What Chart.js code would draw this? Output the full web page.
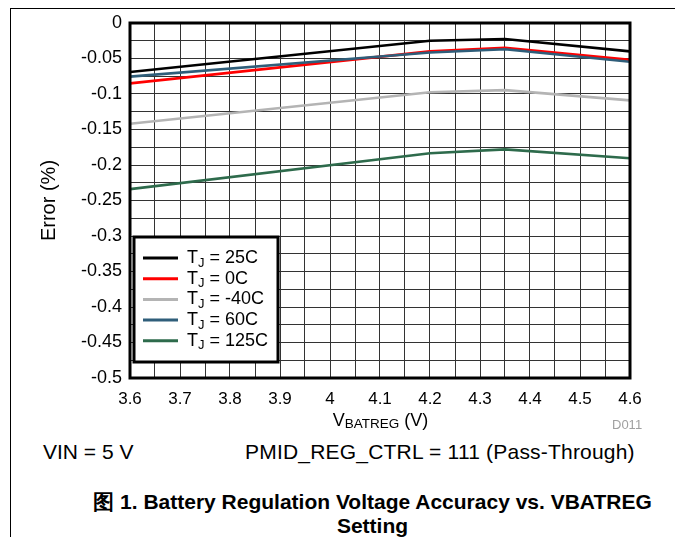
<!DOCTYPE html>
<html>
<head>
<meta charset="utf-8">
<script src="https://cdn.jsdelivr.net/npm/chart.js@4"></script>
<style>
body { margin: 0; background: #fff; font-family: "Liberation Sans", Arial, sans-serif; }
#wrap { position: relative; width: 675px; height: 537px; overflow: hidden; }
#frame { position: absolute; left: 10px; top: 8px; width: 700px; height: 600px; border-left: 1px solid #000; border-top: 1px solid #000; }
#grafico { position: absolute; left: 0; top: 0; }
.txt { position: absolute; white-space: nowrap; color: #000; }
#xtitulo { left: 0; width: 761px; top: 410px; line-height: 20px; text-align: center; font-size: 18px; }
#xtitulo sub { font-size: 13.5px; vertical-align: -2px; line-height: 0; }
#codigo { left: 612px; top: 417px; font-size: 13px; color: #a0a0a0; }
#vin { left: 43px; top: 440px; font-size: 21px; }
#pmid { left: 245px; top: 440px; font-size: 21px; letter-spacing: 0.2px; }
.legenda { left: 0; width: 745px; text-align: center; font-size: 21px; font-weight: bold; }
</style>
</head>
<body>
<div id="wrap">
<div id="frame"></div>
<canvas id="grafico" width="675" height="440"></canvas>
<div class="txt" id="xtitulo">V<sub>BATREG</sub> (V)</div>
<div class="txt" id="codigo">D011</div>
<div class="txt" id="vin">VIN = 5 V</div>
<div class="txt" id="pmid">PMID_REG_CTRL = 111 (Pass-Through)</div>
<div class="txt legenda" style="top:488px">图 1. Battery Regulation Voltage Accuracy vs. VBATREG</div>
<div class="txt legenda" style="top:514px">Setting</div>
</div>
<script>
// ======================================
// Dados
// ======================================

const tensoes = [3.6, 4.2, 4.35, 4.6];

const erro25 = [-0.069, -0.025, -0.0225, -0.040];
const erro0 = [-0.085, -0.040, -0.0350, -0.052];
const erroMenos40 = [-0.142, -0.0975, -0.0945, -0.109];
const erro60 = [-0.0755, -0.0415, -0.0370, -0.0545];
const erro125 = [-0.234, -0.1835, -0.178, -0.1905];

const temperaturas = ["25C", "0C", "-40C", "60C", "125C"];
const cores = ["#000000", "#ff0000", "#b4b4b4", "#2f5e7a", "#2e6b4c"];
const series = [erro25, erro0, erroMenos40, erro60, erro125];
const ordem = [1, 3, 4, 2, 5];

// ======================================
// Moldura e legenda
// ======================================

const moldura = {
  id: "moldura",
  afterDatasetsDraw(chart) {
    const a = chart.chartArea;
    const ctx = chart.ctx;
    ctx.save();
    ctx.strokeStyle = "#000";
    ctx.lineWidth = 3;
    ctx.strokeRect(a.left, a.top, a.right - a.left, a.bottom - a.top);

    // legenda
    const lx = a.left + 4, ly = a.bottom - 141, lw = 144, lh = 125;
    ctx.fillStyle = "#fff";
    ctx.fillRect(lx, ly, lw, lh);
    ctx.lineWidth = 3;
    ctx.strokeRect(lx, ly, lw, lh);

    temperaturas.forEach((t, i) => {
      const y = ly + 21 + i * 20.7;
      ctx.strokeStyle = cores[i];
      ctx.lineWidth = 3;
      ctx.beginPath();
      ctx.moveTo(lx + 9, y);
      ctx.lineTo(lx + 44, y);
      ctx.stroke();

      ctx.fillStyle = "#000";
      ctx.textBaseline = "middle";
      ctx.textAlign = "left";
      ctx.font = "18px 'Liberation Sans', Arial, sans-serif";
      let x = lx + 53;
      ctx.fillText("T", x, y);
      x += ctx.measureText("T").width;
      ctx.font = "13px 'Liberation Sans', Arial, sans-serif";
      ctx.fillText("J", x, y + 5);
      x += ctx.measureText("J").width;
      ctx.font = "18px 'Liberation Sans', Arial, sans-serif";
      ctx.fillText(" = " + t, x, y);
    });
    ctx.restore();
  }
};

// ======================================
// Gráfico
// ======================================

const grafico = document.getElementById("grafico");

new Chart(grafico, {

type: "line",

data: {
  datasets: series.map((s, i) => ({
    label: "TJ = " + temperaturas[i],
    data: s.map((v, j) => ({ x: tensoes[j], y: v })),
    borderColor: cores[i],
    borderWidth: 2.6,
    pointRadius: 0,
    tension: 0,
    fill: false,
    order: ordem[i]
  }))
},

options: {
  responsive: false,
  animation: false,
  layout: { padding: { top: 23, right: 45, left: 0, bottom: 0 } },
  plugins: {
    legend: { display: false },
    tooltip: { enabled: false }
  },
  scales: {
    x: {
      type: "linear",
      min: 3.6,
      max: 4.6,
      afterFit(scale) { scale.height = 62; },
      border: { display: false },
      grid: { color: "#333", lineWidth: 1, drawTicks: false },
      ticks: {
        stepSize: 0.05,
        autoSkip: false,
        maxRotation: 0,
        padding: 11,
        color: "#000",
        font: { family: "'Liberation Sans', Arial, sans-serif", size: 17 },
        callback(v) {
          const c = Math.round(v * 100);
          return c % 10 === 0 ? String(c / 100) : "";
        }
      }
    },
    y: {
      min: -0.5,
      max: 0,
      afterFit(scale) { scale.width = 130; },
      border: { display: false },
      grid: { color: "#333", lineWidth: 1, drawTicks: false },
      title: {
        display: true,
        text: "Error (%)",
        color: "#000",
        padding: { top: 37, bottom: 0 },
        font: { family: "'Liberation Sans', Arial, sans-serif", size: 20 }
      },
      ticks: {
        stepSize: 0.025,
        autoSkip: false,
        padding: 8,
        color: "#000",
        font: { family: "'Liberation Sans', Arial, sans-serif", size: 18 },
        callback(v) {
          const m = Math.round(v * 1000);
          return m % 50 === 0 ? String(m / 1000) : "";
        }
      }
    }
  }
},

plugins: [moldura]

});
</script>
</body>
</html>
